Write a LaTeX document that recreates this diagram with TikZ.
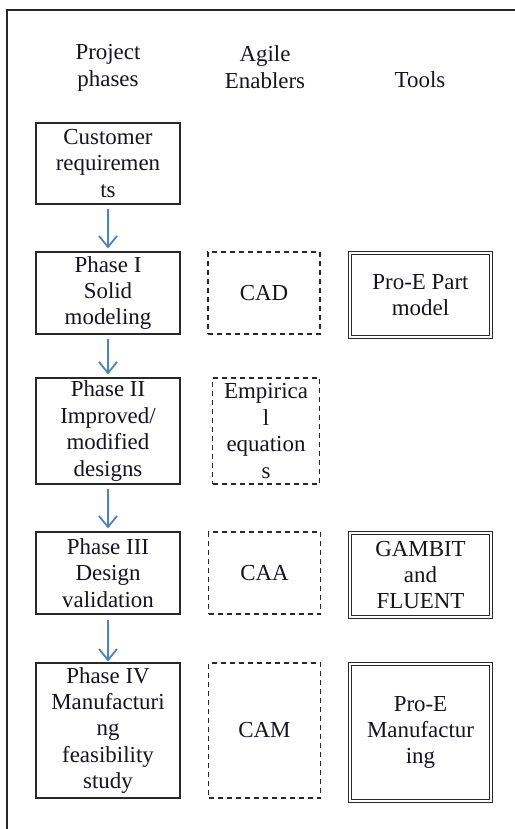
\documentclass[tikz,border=0pt]{standalone}
\usepackage{fontspec}
\setmainfont{Liberation Serif}
\usetikzlibrary{arrows.meta}
\definecolor{arrowblue}{RGB}{79,129,189}
\definecolor{linegray}{RGB}{40,40,40}
\definecolor{txt}{RGB}{20,20,30}
\begin{document}
\begin{tikzpicture}[x=1bp,y=-1bp,
  every node/.style={font=\fontsize{23}{26.5}\selectfont, text=txt, align=center, inner sep=0pt},
  phasebox/.style={draw=linegray, line width=1.2bp, minimum width=144bp},
  enabler/.style={draw=linegray, line width=1.2bp, dash pattern=on 5bp off 4bp, minimum width=112bp},
  toolbox/.style={draw=linegray, double=white, double distance=2.2bp, line width=1bp, minimum width=141bp},
  flow/.style={draw=arrowblue, line width=1.8bp, -{Straight Barb[length=11bp,width=18bp,line width=1.8bp]}}
]
\useasboundingbox (0,0) rectangle (515,829);
\fill[white] (0,0) rectangle (515,829);
% frame
\draw[linegray, line width=1.5bp] (7,835) -- (7,10) -- (520,10);
% headers
\node (h1) at (108,68) {Project\\phases};
\node (h2) at (265,67) {Agile\\Enablers};
\node (h3) at (420,80) {Tools};
% phases
\node[phasebox, minimum height=81bp] (c) at (108,163.5) {Customer\\requiremen\\ts};
\node[phasebox, minimum height=82bp] (p1) at (108,293) {Phase I\\Solid\\modeling};
\node[phasebox, minimum height=106bp] (p2) at (108,431) {Phase II\\Improved/\\modified\\designs};
\node[phasebox, minimum height=82bp] (p3) at (108,573) {Phase III\\Design\\validation};
\node[phasebox, minimum height=135bp] (p4) at (108,730.5) {Phase IV\\Manufacturi\\ng\\feasibility\\study};
% enablers
\node[enabler, minimum height=82bp] (e1) at (264,293) {CAD};
\node[enabler, minimum height=106bp, minimum width=107bp] (e2) at (266,431) {Empirica\\l\\equation\\s};
\node[enabler, minimum height=82bp] (e3) at (264.5,573) {CAA};
\node[enabler, minimum height=135bp] (e4) at (264.5,730.5) {CAM};
% tools
\node[toolbox, minimum height=84bp] (t1) at (420.5,295) {Pro-E Part\\model};
\node[toolbox, minimum height=84bp] (t3) at (420.5,575) {GAMBIT\\and\\FLUENT};
\node[toolbox, minimum height=137bp] (t4) at (420.5,732.5) {Pro-E\\Manufactur\\ing};
% arrows
\draw[flow] ([yshift=-4bp]c.south) -- ([yshift=3bp]p1.north);
\draw[flow] ([yshift=-4bp]p1.south) -- ([yshift=3bp]p2.north);
\draw[flow] ([yshift=-4bp]p2.south) -- ([yshift=3bp]p3.north);
\draw[flow] ([yshift=-5bp]p3.south) -- ([yshift=1bp]p4.north);
\end{tikzpicture}
\end{document}
